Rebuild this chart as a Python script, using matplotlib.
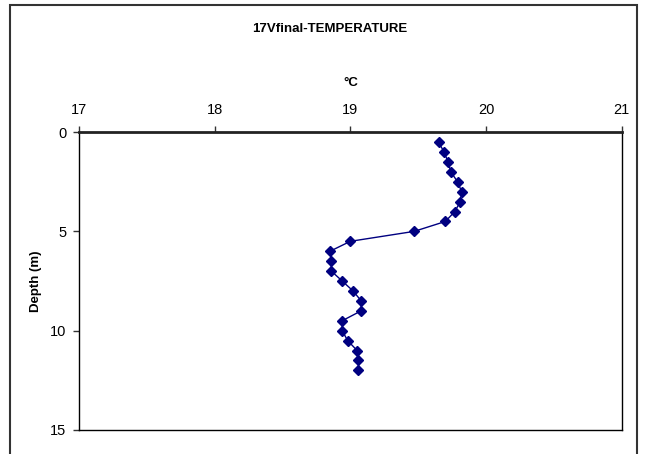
import numpy as np
import matplotlib.pyplot as plt
from matplotlib.patches import Rectangle

# profile data
depth = [0.5, 1.0, 1.5, 2.0, 2.5, 3.0, 3.5, 4.0, 4.5, 5.0, 5.5, 6.0,
         6.5, 7.0, 7.5, 8.0, 8.5, 9.0, 9.5, 10.0, 10.5, 11.0, 11.5, 12.0]
temp = [19.65, 19.69, 19.72, 19.74, 19.79, 19.82, 19.81, 19.77, 19.70, 19.47, 19.00, 18.85,
        18.86, 18.86, 18.94, 19.02, 19.08, 19.08, 18.94, 18.94, 18.98, 19.05, 19.06, 19.06]
xticks = [17, 18, 19, 20, 21]
yticks = [0, 5, 10, 15]

plt.rcParams['font.family'] = ['Liberation Sans', 'DejaVu Sans']
tickfont = ['Liberation Sans Narrow', 'Liberation Sans', 'DejaVu Sans']

fig = plt.figure(figsize=(6.47, 4.54), dpi=100)
ax = fig.add_axes([0.122, 0.053, 0.839, 0.656])

ax.plot(temp, depth, color='#000080', lw=1, marker='D', markersize=5.5,
        markerfacecolor='#000080', markeredgecolor='#000080')

ax.set_xlim(17, 21)
ax.set_ylim(15, 0)
ax.set_xticks(xticks)
ax.set_yticks(yticks)
ax.xaxis.tick_top()
ax.xaxis.set_label_position('top')
ax.tick_params(axis='x', length=4, width=1, pad=7, color='#333333')
ax.tick_params(axis='y', length=4, width=1, pad=5, color='#333333')
for lab in ax.get_xticklabels() + ax.get_yticklabels():
    lab.set_family(tickfont)
    lab.set_fontsize(10.5)
for s in ax.spines.values():
    s.set_linewidth(1)
    s.set_color('black')
ax.spines['top'].set_linewidth(2)
ax.spines['top'].set_color('#222222')

ax.set_xlabel('°C', fontsize=9.5, fontweight='bold', labelpad=12)
ax.set_ylabel('Depth (m)', fontsize=9.5, fontweight='bold', labelpad=6)
fig.text(330 / 647, 1 - 29 / 454, '17Vfinal-TEMPERATURE', ha='center', va='center',
         fontsize=9.5, fontweight='bold')

# chart area border (bottom edge falls outside the image)
fig.patches.append(Rectangle((10 / 647, -0.05), 627 / 647, 1.0 - 5 / 454 + 0.05,
                             transform=fig.transFigure, fill=False,
                             edgecolor='#333333', lw=1.5))

fig.savefig('out.png', dpi=100)
